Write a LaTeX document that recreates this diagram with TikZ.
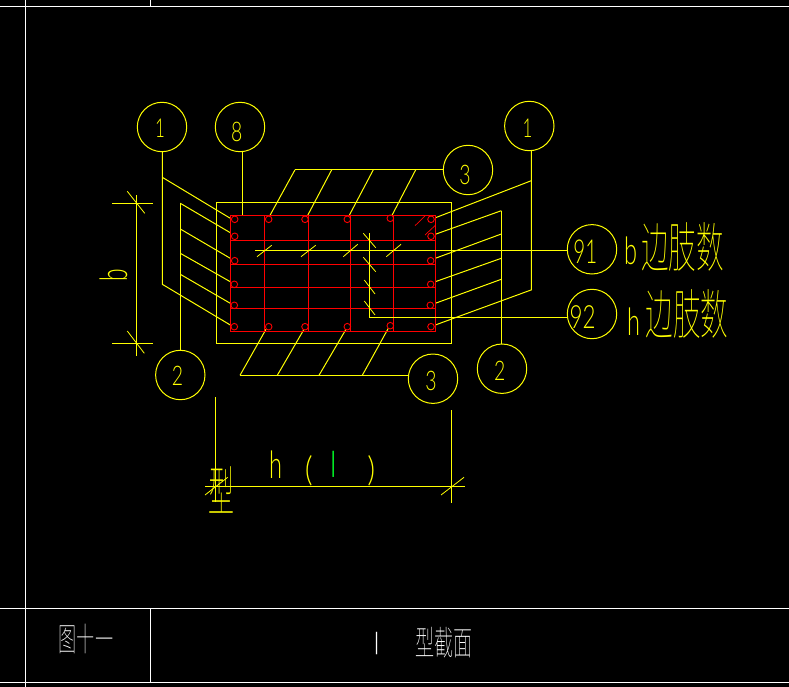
\documentclass[tikz,border=0pt]{standalone}
\usepackage{fontspec}
\newfontfamily\cadfont{Lato Light}
\newfontfamily\cjkfont{Noto Sans CJK SC Thin}
\definecolor{cadyellow}{RGB}{255,255,0}
\definecolor{cadred}{RGB}{255,0,0}
\definecolor{cadgreen}{RGB}{0,255,40}
\newcommand{\latintext}[4]{\scalebox{#2}[1]{\fontsize{#1}{#1}\cadfont #4}}
\newcommand{\cjktext}[3]{\scalebox{#2}[1]{\fontsize{#1}{#1}\cjkfont #3}}
\tikzset{
  yl/.style={draw=cadyellow,line width=1pt},
  rd/.style={draw=cadred,line width=1pt},
  wt/.style={draw=white,line width=1pt},
  tick/.style={draw=cadyellow,line width=0.8pt},
  bubble/.style={circle,draw=cadyellow,line width=1pt,minimum size=49.4pt,inner sep=0pt,outer sep=0pt},
  rebar/.style={circle,draw=cadred,line width=0.9pt,minimum size=6.6pt,inner sep=0pt,outer sep=0pt},
  lab/.style={inner sep=0pt,outer sep=0pt,text=cadyellow},
  wlab/.style={inner sep=0pt,outer sep=0pt,text=white}
}
\begin{document}
\begin{tikzpicture}[x=1pt,y=-1pt]
\useasboundingbox (0,0) rectangle (789,687);
\fill[black] (0,0) rectangle (789,687);
% frame
\draw[wt] (0,7) -- (789,7);
\draw[wt] (25.3,0) -- (25.3,687);
\draw[wt] (150.5,0) -- (150.5,7);
\draw[wt] (0,608.3) -- (789,608.3);
\draw[wt] (0,682.5) -- (789,682.5);
\draw[wt] (150.5,608.3) -- (150.5,682.5);
% outer section
\draw[yl] (216.3,202.3) rectangle (451.7,343.3);
% bubbles
\node[bubble] (c1l) at (162,127) {};
\node[bubble] (c8) at (240,127) {};
\node[bubble] (c1r) at (529.3,126) {};
\node[bubble] (c3t) at (468,170) {};
\node[bubble] (c2l) at (180.3,375) {};
\node[bubble] (c2r) at (502,368.7) {};
\node[bubble] (c3b) at (433,378.7) {};
\node[bubble] (c91) at (592,249.3) {};
\node[bubble] (c92) at (592,314) {};
% coordinates
\coordinate (a1) at (162.3,177.3); \coordinate (a2) at (162.3,284.3);
\coordinate (b1) at (180.3,203.3); \coordinate (b2) at (180.3,229); \coordinate (b3) at (180.3,253.3); \coordinate (b4) at (180.3,274.3);
\coordinate (d1) at (531.3,180.7); \coordinate (d2) at (531.3,289.9);
\coordinate (e1) at (501.3,210.7); \coordinate (e2) at (501.3,234); \coordinate (e3) at (501.3,258.3); \coordinate (e4) at (501.3,279.3);
\coordinate (r8) at (242.3,215.3);
\coordinate (t0) at (295,169.8); \coordinate (u0) at (240,375.3);
\coordinate (h91) at (255,250.3);
\coordinate (v92) at (369.3,233.3); \coordinate (k92) at (369.3,317.3);
% leaders 1 left
\draw[yl] (c1l.south -| a1) -- (a2) -- (230.3,325);
\draw[yl] (a1) -- (230.3,218.3);
% leaders 2 left
\draw[yl] (b1) -- (b1 |- c2l.north);
\draw[yl] (b1) -- (230.3,232.7);
\draw[yl] (b2) -- (230.3,258.3);
\draw[yl] (b3) -- (230.3,281.7);
\draw[yl] (b4) -- (230.3,303.3);
% leader 8
\draw[yl] (c8.south -| r8) -- (r8);
% leaders 1 right
\draw[yl] (c1r.south -| d1) -- (d2) -- (435.3,325);
\draw[yl] (d1) -- (435.3,217.8);
% leaders 2 right
\draw[yl] (e1) -- (e1 |- c2r.north);
\draw[yl] (e1) -- (435.3,234.3);
\draw[yl] (e2) -- (435.3,258.3);
\draw[yl] (e3) -- (435.3,281.7);
\draw[yl] (e4) -- (435.3,303.3);
% stirrup leaders 3 top
\draw[yl] (t0) -- (c3t.west |- t0);
\draw[yl] (t0) -- (270,215.3);
\draw[yl] (331.7,169.8) -- (307.7,215.3);
\draw[yl] (373.3,169.8) -- (349.3,215.3);
\draw[yl] (415.7,169.8) -- (392,215.3);
% stirrup leaders 3 bottom
\draw[yl] (u0) -- (c3b.west |- u0);
\draw[yl] (u0) -- (266,329.3);
\draw[yl] (277.3,375.3) -- (304,329.3);
\draw[yl] (319,375.3) -- (346,329.3);
\draw[yl] (362.3,375.3) -- (388.3,328.3);
% red cage
\draw[rd] (230.3,215.3) rectangle (435.2,331.2);
\foreach \xx in {264.3,308.3,350.3,393.3} \draw[rd] (\xx,215.3) -- (\xx,331.2);
\foreach \yy in {240.2,264.3,287.3,308.3} \draw[rd] (230.3,\yy) -- (435.2,\yy);
\draw[cadred,line width=.7pt] (415,225.7) -- (425,216);
\draw[cadred,line width=.7pt] (425,235) -- (435.7,225);
% rebars
\foreach \nm/\xx/\yy in {p1/234.7/219.3,p2/234.7/236.3,p3/234.7/260.7,p4/234.3/284.3,p5/234.3/305.3,p6/234.3/326.7,
  p7/268.7/219.3,p8/305/219.3,p9/347.3/219.3,p10/390.3/218.3,
  p11/431/219.3,p12/431/236.3,p13/430.7/260.7,p14/430.7/284.3,p15/430.3/305.3,p16/431/326.7,
  p17/268.7/326.7,p18/305/326.7,p19/347.3/326.7,p20/390.3/325.7}
  \node[rebar] (\nm) at (\xx,\yy) {};
% leader 91 / 92
\draw[yl] (h91) -- (c91.west |- h91);
\draw[yl] (v92) -- (k92) -- (c92.west |- k92);
\draw[tick] (257,256.7) -- (271.7,245.3);
\draw[tick] (301,256.7) -- (315.7,245.3);
\draw[tick] (343.3,256.7) -- (357.7,244.3);
\draw[tick] (386.3,256.7) -- (401,244.3);
\draw[tick] (363.3,233.3) -- (375.7,247.7);
\draw[tick] (363.3,257.3) -- (375.7,271.7);
\draw[tick] (364.3,280) -- (375,294);
\draw[tick] (364.3,301) -- (375,315);
% dimension b
\coordinate (bt) at (136.3,195); \coordinate (bb) at (136.3,355.7);
\draw[yl] (bt) -- (bb);
\draw[yl] (112,203.3) -- (153,203.3);
\draw[yl] (112,343.3) -- (153,343.3);
\draw[tick] (127.3,191.3) -- (144.7,213.3);
\draw[tick] (127.3,331) -- (144.3,353.3);
% dimension h
\draw[yl] (215.3,397.3) -- (215.3,501.7);
\draw[yl] (451.7,410) -- (451.7,502.7);
\draw[yl] (205,486.3) -- (465,486.3);
\draw[tick] (205,495) -- (227.7,477.3);
\draw[tick] (441,495) -- (464,477.3);
% labels
\node[lab] (t1l) at (160,128.3) {\latintext{26}{.65}{1}{1}};
\node[lab] (t8) at (236.7,132) {\latintext{27}{.72}{1}{8}};
\node[lab] (t1r) at (527.5,128.5) {\latintext{26}{.65}{1}{1}};
\node[lab] (t3t) at (465,175) {\latintext{27}{.72}{1}{3}};
\node[lab] (t3b) at (431,381) {\latintext{27}{.72}{1}{3}};
\node[lab] (t2l) at (177.5,376) {\latintext{27}{.72}{1}{2}};
\node[lab] (t2r) at (499.7,371) {\latintext{27}{.72}{1}{2}};
\node[lab] (t91) at (585.3,251.7) {\latintext{33}{.62}{1}{91}};
\node[lab] (t92) at (582.7,316.7) {\latintext{32}{.7}{1}{92}};
\node[lab,rotate=90] (tb) at (113.5,275.5) {\latintext{38}{.6}{1}{b}};
\node[lab] (tbb) at (631,251.2) {\latintext{38}{.62}{1}{b}};
\node[lab] (th) at (633.7,321.6) {\latintext{38}{.62}{1}{h}};
\node[lab] (tb2) at (682.3,246.7) {\cjktext{54}{.51}{边肢数}};
\node[lab] (th2) at (687.2,314) {\cjktext{54}{.51}{边肢数}};
\node[lab] (tdh) at (276.3,464.3) {\latintext{38}{.62}{1}{h}};
\node[lab] (tp1) at (308.7,470.6) {\latintext{34}{.9}{1}{(}};
\node[inner sep=0pt,text=cadgreen] (tbar) at (333.3,464.3) {\latintext{28}{1.4}{1}{|}};
\node[lab] (tp2) at (371.3,470.6) {\latintext{34}{.9}{1}{)}};
\node[lab] (txing) at (221,489.5) {\cjktext{54}{.48}{型}};
\node[wlab] (tt1) at (86,638.7) {\cjktext{33}{.55}{图十一}};
\node[wlab] (tbar2) at (376.7,643.8) {\latintext{24}{1.4}{1}{|}};
\node[wlab] (tt2) at (443.8,642.2) {\cjktext{34}{.56}{型截面}};
\end{tikzpicture}
\end{document}
